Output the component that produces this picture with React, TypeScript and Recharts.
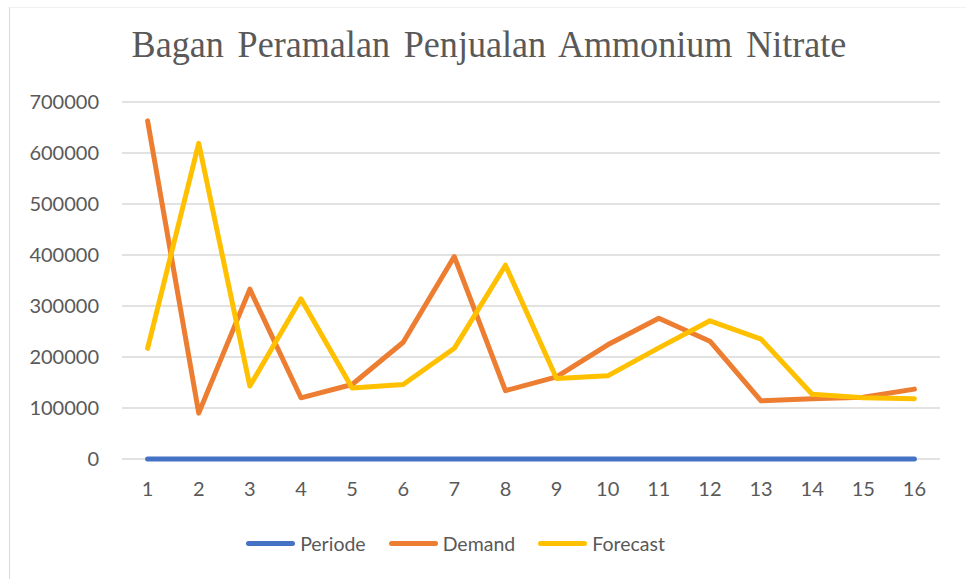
import React from "react";
import { LineChart, Line, XAxis, YAxis, CartesianGrid, Legend } from "recharts";

const periods = [1, 2, 3, 4, 5, 6, 7, 8, 9, 10, 11, 12, 13, 14, 15, 16];
const periodeValues = [1, 2, 3, 4, 5, 6, 7, 8, 9, 10, 11, 12, 13, 14, 15, 16];
const demandValues = [663000, 90000, 333000, 120000, 146000, 229000, 397000, 134000, 161000, 224000, 276000, 231000, 114000, 118000, 121000, 137000];
const forecastValues = [217000, 619000, 143000, 314000, 139000, 146000, 217000, 380000, 158000, 163000, 218000, 271000, 235000, 127000, 120000, 118000];
const yTicks = [0, 100000, 200000, 300000, 400000, 500000, 600000, 700000];
const titleText = "Bagan Peramalan Penjualan Ammonium Nitrate";

const seriesInfo = [
  { key: "Periode", color: "#4472C4" },
  { key: "Demand", color: "#ED7D31" },
  { key: "Forecast", color: "#FFC000" },
];

const data = periods.map((p, i) => ({
  period: String(p),
  Periode: periodeValues[i],
  Demand: demandValues[i],
  Forecast: forecastValues[i],
}));

const FONT = "Lato, 'Open Sans', sans-serif";

const LegendContent = () => (
  <div
    style={{
      display: "flex",
      justifyContent: "center",
      alignItems: "center",
      height: 30,
      fontFamily: FONT,
      fontSize: 19.5,
      color: "#595959",
    }}
  >
    {seriesInfo.map((s, i) => (
      <div
        key={s.key}
        style={{ display: "flex", alignItems: "center", marginLeft: i === 0 ? 0 : 23 }}
      >
        <span
          style={{
            display: "inline-block",
            width: 49,
            height: 5,
            borderRadius: 3,
            background: s.color,
            marginRight: 5,
          }}
        />
        <span>{s.key}</span>
      </div>
    ))}
  </div>
);

export default function App() {
  return (
    <div
      style={{
        position: "absolute",
        left: 0,
        top: 0,
        width: 966,
        height: 579,
        overflow: "hidden",
        background: "#fff",
      }}
    >
      <div
        style={{
          position: "absolute",
          left: 9,
          top: 7,
          width: 1000,
          height: 1000,
          borderLeft: "1px solid #D9D9D9",
          borderTop: "1px solid #F2F2F2",
        }}
      />
      <div
        style={{
          position: "absolute",
          left: 0,
          top: 22,
          width: 978,
          textAlign: "center",
          fontFamily: "'Liberation Serif', 'Times New Roman', serif",
          fontSize: 38,
          color: "#595959",
          lineHeight: "44px",
          whiteSpace: "pre",
          wordSpacing: 5,
          transform: "scaleX(0.95)",
          transformOrigin: "489px 50%",
        }}
      >
        {titleText}
      </div>
      <div style={{ position: "absolute", left: 0, top: 0 }}>
        <LineChart
          width={966}
          height={579}
          data={data}
          margin={{ top: 102, right: 26, left: 0, bottom: 90 }}
        >
          <CartesianGrid vertical={false} stroke="#D9D9D9" strokeWidth={1.5} />
          <XAxis
            dataKey="period"
            axisLine={false}
            tickLine={false}
            tickSize={0}
            tickMargin={23}
            height={30}
            padding={{ left: 25.6, right: 25.6 }}
            tick={{ fill: "#595959", fontSize: 20, fontFamily: FONT }}
          />
          <YAxis
            width={122}
            domain={[0, 700000]}
            ticks={yTicks}
            interval={0}
            axisLine={false}
            tickLine={false}
            tickSize={0}
            tickMargin={23}
            tick={{ fill: "#595959", fontSize: 20, fontFamily: FONT }}
          />
          <Legend
            layout="horizontal"
            verticalAlign="middle"
            align="center"
            content={<LegendContent />}
            wrapperStyle={{ top: 528, left: 0, width: 911, height: 30 }}
          />
          {seriesInfo.map((s) => (
            <Line
              key={s.key}
              type="linear"
              dataKey={s.key}
              stroke={s.color}
              strokeWidth={5}
              dot={false}
              activeDot={false}
              strokeLinecap="round"
              strokeLinejoin="round"
              isAnimationActive={false}
            />
          ))}
        </LineChart>
      </div>
    </div>
  );
}
